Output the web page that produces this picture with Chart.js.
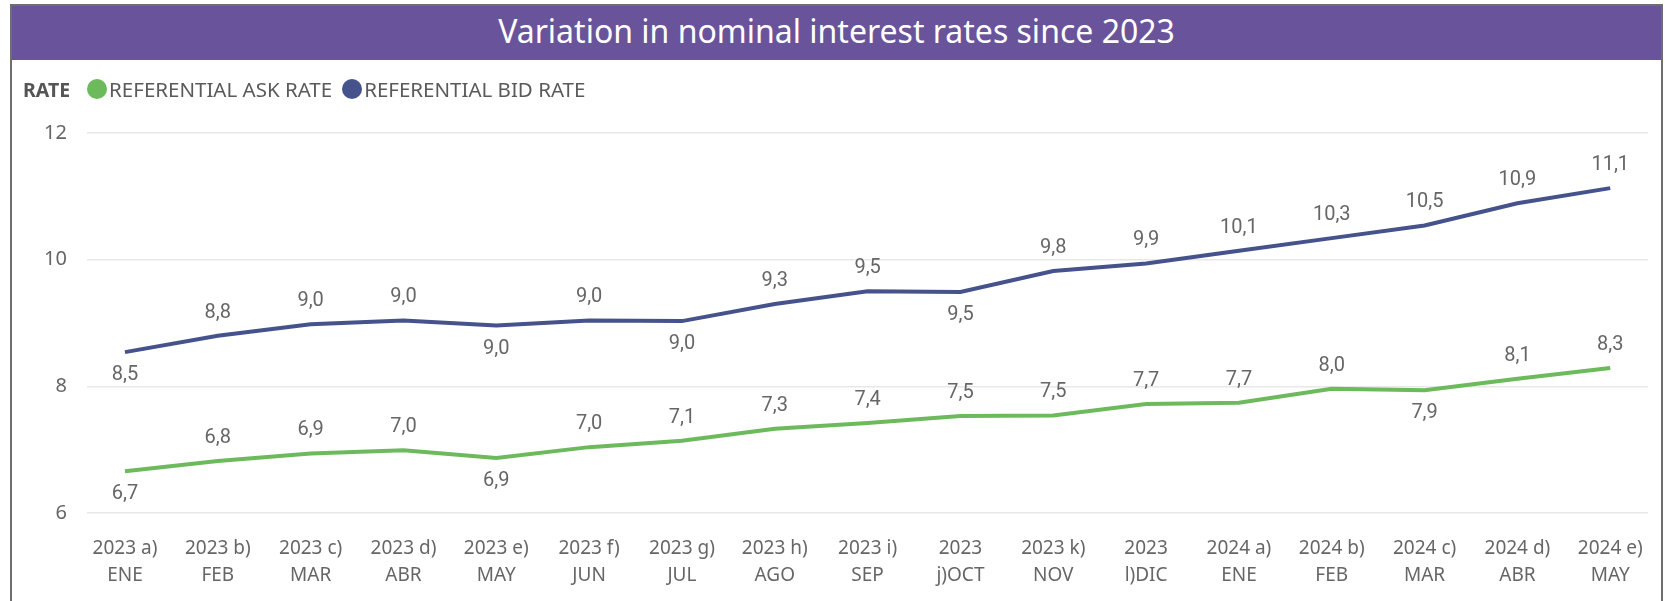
<!DOCTYPE html>
<html>
<head>
<meta charset="utf-8">
<script src="https://cdn.jsdelivr.net/npm/chart.js@4"></script>
<style>
  html, body { margin: 0; padding: 0; background: #fff; }
  #wrap { position: relative; width: 1665px; height: 601px; overflow: hidden; }
  #frame { position: absolute; left: 10px; top: 4px; width: 1649px; height: 620px;
           border: 2px solid #6e6e6e; border-bottom: none; }
  #header { position: absolute; left: 12px; top: 6px; width: 1649px; height: 54px; background: #69549b;
            color: #fff; font-family: "Noto Sans", "Open Sans", sans-serif; font-size: 32px;
            text-align: center; line-height: 49px; }
  #legend { position: absolute; left: 23px; top: 76px; height: 26px; display: flex; align-items: center;
            font-family: "Noto Sans", "Open Sans", sans-serif; font-size: 20.5px; color: #5a5a5a; white-space: nowrap; }
  #legend b { font-size: 19.5px; color: #555; margin-right: 17px; }
  .item { display: flex; align-items: center; margin-right: 10px; }
  .dot { width: 20px; height: 20px; border-radius: 50%; display: inline-block; margin-right: 2px; }
  canvas { position: absolute; left: 0; top: 0; }
</style>
</head>
<body>
<div id="wrap">
  <canvas id="c" width="1665" height="601"></canvas>
  <div id="frame"></div>
  <div id="header">Variation in nominal interest rates since 2023</div>
  <div id="legend"></div>
</div>
<script>
// ---- data ----
const periodLabels = ['2023 a)','2023 b)','2023 c)','2023 d)','2023 e)','2023 f)','2023 g)','2023 h)','2023 i)','2023','2023 k)','2023','2024 a)','2024 b)','2024 c)','2024 d)','2024 e)'];
const monthLabels  = ['ENE','FEB','MAR','ABR','MAY','JUN','JUL','AGO','SEP','j)OCT','NOV','l)DIC','ENE','FEB','MAR','ABR','MAY'];
const askRate = [6.66, 6.82, 6.94, 6.99, 6.87, 7.04, 7.14, 7.33, 7.42, 7.53, 7.54, 7.72, 7.74, 7.96, 7.94, 8.12, 8.29];
const bidRate = [8.54, 8.80, 8.98, 9.04, 8.96, 9.04, 9.03, 9.30, 9.50, 9.49, 9.82, 9.94, 10.14, 10.34, 10.54, 10.89, 11.13];
const yTicks = [6, 8, 10, 12];
const legendTitle = 'RATE';
const seriesNames = ['REFERENTIAL ASK RATE', 'REFERENTIAL BID RATE'];
const seriesColors = ['#6cba5c', '#45528b'];

const fmt = v => v.toFixed(1).replace('.', ',');

// legend (HTML)
const lg = document.getElementById('legend');
lg.innerHTML = '<b>' + legendTitle + '</b>' + seriesNames.map((n, i) =>
  '<span class="item"><span class="dot" style="background:' + seriesColors[i] + '"></span>' + n + '</span>').join('');

// data label plugin
const valueLabels = {
  id: 'valueLabels',
  afterDatasetsDraw(chart) {
    const ctx = chart.ctx;
    ctx.save();
    ctx.font = '20px Roboto, "Noto Sans", sans-serif';
    ctx.fillStyle = '#666';
    ctx.textAlign = 'center';
    ctx.textBaseline = 'middle';
    chart.data.datasets.forEach((ds, di) => {
      const meta = chart.getDatasetMeta(di);
      const vals = ds.data.map(p => p.y);
      meta.data.forEach((pt, i) => {
        const v = vals[i];
        const prevLower = i === 0 || v < vals[i - 1];
        const nextLower = i === vals.length - 1 || v < vals[i + 1];
        const below = prevLower && nextLower;
        ctx.fillText(fmt(v), pt.x, pt.y + (below ? 23 : -23));
      });
    });
    ctx.restore();
  }
};

const mk = (arr) => arr.map((v, i) => ({ x: i, y: v }));

new Chart(document.getElementById('c'), {
  type: 'line',
  data: {
    datasets: [
      { label: seriesNames[0], data: mk(askRate), borderColor: seriesColors[0], backgroundColor: seriesColors[0],
        borderWidth: 4, pointRadius: 0, tension: 0 },
      { label: seriesNames[1], data: mk(bidRate), borderColor: seriesColors[1], backgroundColor: seriesColors[1],
        borderWidth: 4, pointRadius: 0, tension: 0 }
    ]
  },
  options: {
    responsive: false,
    animation: false,
    devicePixelRatio: 1,
    layout: { padding: { top: 133, right: 14, left: 0, bottom: 0 } },
    plugins: { legend: { display: false }, tooltip: { enabled: false }, title: { display: false } },
    scales: {
      x: {
        type: 'linear',
        min: -0.409, max: periodLabels.length - 1 + 0.409,
        afterBuildTicks: s => { s.ticks = periodLabels.map((_, i) => ({ value: i })); },
        afterFit: s => { s.height = 601 - 513; },
        grid: { display: false, drawTicks: false },
        border: { display: false },
        ticks: {
          autoSkip: false, maxRotation: 0, minRotation: 0, padding: 22,
          color: '#666',
          font: { family: '"Noto Sans", "Open Sans", sans-serif', size: 19, lineHeight: 1.42 },
          callback: v => [periodLabels[v], monthLabels[v]]
        }
      },
      y: {
        min: 6, max: 12,
        afterBuildTicks: s => { s.ticks = yTicks.map(v => ({ value: v })); },
        afterFit: s => { s.width = 87; },
        grid: { color: '#e8e8e8', lineWidth: 1.5, drawTicks: false },
        border: { display: false },
        ticks: {
          padding: 20, color: '#666',
          font: { family: '"Noto Sans", "Open Sans", sans-serif', size: 20 }
        }
      }
    }
  },
  plugins: [valueLabels]
});
</script>
</body>
</html>
